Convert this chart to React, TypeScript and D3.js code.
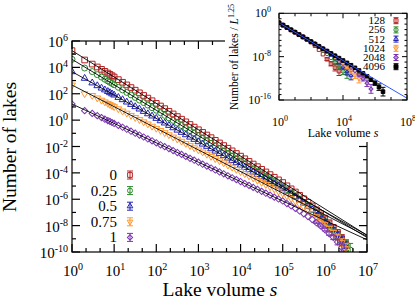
import React from 'react';
import * as d3 from 'd3';

// log10 of lake volume s (shared grid of the main plot)
const logS = [0, 0.3, 0.48, 0.6, 0.7, 0.78, 0.85, 0.9, 0.95, 1.0,
  1.1, 1.2, 1.3, 1.4, 1.5, 1.6, 1.7, 1.8, 1.9, 2.0, 2.1, 2.2, 2.3, 2.4, 2.5, 2.6, 2.7, 2.8, 2.9, 3.0,
  3.1, 3.2, 3.3, 3.4, 3.5, 3.6, 3.7, 3.8, 3.9, 4.0, 4.1, 4.2, 4.3, 4.4, 4.5, 4.6, 4.7, 4.8, 4.9, 5.0,
  5.1, 5.2, 5.3, 5.4, 5.5, 5.6, 5.7, 5.8, 5.9, 6.0, 6.1, 6.2, 6.3, 6.4, 6.5, 6.6];

const hurstLabels = ['0', '0.25', '0.5', '0.75', '1'];

// log10 of number of lakes, one array per H
const countH0 = [5.27, 4.56, 4.25, 4.03, 3.85, 3.70, 3.57, 3.47, 3.37, 3.27,
  3.07, 2.87, 2.67, 2.47, 2.27, 2.07, 1.87, 1.67, 1.47, 1.27, 1.07, 0.87, 0.67, 0.47, 0.27, 0.07, -0.13, -0.33, -0.53, -0.73,
  -0.93, -1.13, -1.33, -1.53, -1.73, -1.93, -2.13, -2.33, -2.53, -2.73, -2.93, -3.13, -3.33, -3.53, -3.73, -3.93, -4.13, -4.33, -4.53, -4.73,
  -4.98, -5.21, -5.45, -5.70, -5.96, -6.23, -6.51, -6.80, -7.10, -7.43, -7.78, -8.13, -8.53, -8.98, -9.48];
const countH025 = [4.61, 3.95, 3.68, 3.45, 3.26, 3.10, 2.97, 2.87, 2.78, 2.68,
  2.49, 2.29, 2.10, 1.91, 1.72, 1.52, 1.33, 1.14, 0.94, 0.75, 0.56, 0.36, 0.17, -0.02, -0.22, -0.41, -0.60, -0.79, -0.99, -1.18,
  -1.37, -1.57, -1.76, -1.95, -2.15, -2.34, -2.53, -2.72, -2.92, -3.11, -3.30, -3.50, -3.69, -3.88, -4.08, -4.27, -4.46, -4.65, -4.85, -5.04,
  -5.28, -5.51, -5.74, -5.98, -6.24, -6.50, -6.77, -7.05, -7.35, -7.67, -8.01, -8.36, -8.75, -9.19, -9.50, -9.85];
const countH05 = [3.67, 3.17, 2.82, 2.61, 2.43, 2.29, 2.17, 2.08, 1.99, 1.90,
  1.72, 1.55, 1.37, 1.19, 1.02, 0.84, 0.66, 0.48, 0.31, 0.13, -0.05, -0.22, -0.40, -0.58, -0.76, -0.93, -1.11, -1.29, -1.46, -1.64,
  -1.82, -1.99, -2.17, -2.35, -2.53, -2.70, -2.88, -3.06, -3.23, -3.41, -3.59, -3.76, -3.94, -4.12, -4.30, -4.47, -4.65, -4.83, -5.00, -5.18,
  -5.41, -5.61, -5.83, -6.06, -6.30, -6.54, -6.80, -7.07, -7.34, -7.65, -7.98, -8.30, -8.68, -9.11, -9.59];
const countH075 = [2.66, 2.00, 1.87, 1.68, 1.51, 1.38, 1.27, 1.18, 1.10, 1.02,
  0.86, 0.69, 0.53, 0.36, 0.20, 0.04, -0.13, -0.29, -0.46, -0.62, -0.78, -0.95, -1.11, -1.28, -1.44, -1.60, -1.77, -1.93, -2.10, -2.26,
  -2.42, -2.59, -2.75, -2.92, -3.08, -3.24, -3.41, -3.57, -3.74, -3.90, -4.06, -4.23, -4.39, -4.56, -4.72, -4.88, -5.05, -5.21, -5.38, -5.54,
  -5.75, -5.95, -6.15, -6.37, -6.59, -6.82, -7.07, -7.32, -7.59, -7.88, -8.19, -8.51, -8.87, -9.29, -9.75];
const countH1 = [1.22, 0.72, 0.51, 0.34, 0.19, 0.07, -0.03, -0.10, -0.18, -0.25,
  -0.40, -0.54, -0.69, -0.84, -0.99, -1.13, -1.28, -1.43, -1.57, -1.72, -1.87, -2.01, -2.16, -2.31, -2.46, -2.60, -2.75, -2.90, -3.04, -3.19,
  -3.34, -3.48, -3.63, -3.78, -3.93, -4.07, -4.22, -4.37, -4.51, -4.66, -4.81, -4.95, -5.10, -5.25, -5.40, -5.54, -5.69, -5.84, -5.98, -6.13,
  -6.33, -6.50, -6.69, -6.89, -7.10, -7.31, -7.54, -7.78, -8.02, -8.30, -8.60, -8.89, -9.24, -9.64];

// power-law fits: log10 N = a + b log10 s
const fitA = [5.27, 4.61, 3.67, 2.66, 1.22];
const fitB = [-2.0, -1.93, -1.77, -1.64, -1.47];

// error bars (log10 units) in the tail
const errLogS = [5.8, 5.9, 6.0, 6.1, 6.2, 6.3, 6.4, 6.5, 6.6];
const errSize = [0.05, 0.07, 0.1, 0.13, 0.17, 0.22, 0.3, 0.4, 0.5];

// inset: scaled counts for several system sizes L
const insetLogS = [0, 0.25, 0.5, 0.75, 1.0, 1.25, 1.5, 1.75, 2.0, 2.25, 2.5, 2.75, 3.0, 3.25,
  3.5, 3.75, 4.0, 4.25, 4.5, 4.75, 5.0, 5.25, 5.5, 5.75, 6.0, 6.25, 6.5];
const sizeLabels = ['128', '256', '512', '1024', '2048', '4096'];
const scaledL128 = [-1.75, -2.19, -2.62, -3.06, -3.49, -3.93, -4.36, -4.80, -5.33, -5.97, -6.70, -7.54, -8.47, -9.31, -10.04, -10.68];
const scaledL256 = [-1.75, -2.19, -2.62, -3.06, -3.49, -3.93, -4.36, -4.80, -5.23, -5.67, -6.20, -6.84, -7.47, -8.21, -9.04, -9.88, -10.71, -11.2];
const scaledL512 = [-1.75, -2.19, -2.62, -3.06, -3.49, -3.93, -4.36, -4.80, -5.23, -5.67, -6.10, -6.54, -7.07, -7.71, -8.34, -9.08, -9.91, -10.75, -11.48];
const scaledL1024 = [-1.75, -2.19, -2.62, -3.06, -3.49, -3.93, -4.36, -4.80, -5.23, -5.67, -6.10, -6.54, -6.97, -7.41, -7.94, -8.58, -9.21, -9.95, -10.68, -11.42, -12.05];
const scaledL2048 = [-1.75, -2.19, -2.62, -3.06, -3.49, -3.93, -4.36, -4.80, -5.23, -5.67, -6.10, -6.54, -6.97, -7.41, -7.84, -8.28, -8.81, -9.35, -9.98, -10.62, -11.35, -12.09, -12.92, -13.96];
const scaledL4096 = [-1.75, -2.19, -2.62, -3.06, -3.49, -3.93, -4.36, -4.80, -5.23, -5.67, -6.10, -6.54, -6.97, -7.41, -7.84, -8.28, -8.71, -9.15, -9.58, -10.07, -10.55, -11.09, -11.62, -12.26, -12.89, -13.63, -14.46];
const insetTailErr = [0.25, 0.4, 0.6, 0.8];
// guide line in the inset
const guideA = -1.75;
const guideB = -1.74;

const colors = ['#b22222', '#2a8a2a', '#2525b5', '#ff9933', '#7a35b0', '#000000'];
const shapes = ['square', 'circle', 'up', 'down', 'diamond', 'filled'];
const font = '"Liberation Serif", "Times New Roman", serif';

const x = d3.scaleLog().domain([1, 1e7]).range([72, 367]);
const y = d3.scaleLog().domain([1e-10, 1e6]).range([252, 41]);
const ix = d3.scaleLog().domain([1, 1e8]).range([279, 407]);
const iy = d3.scaleLog().domain([1e-16, 1]).range([100, 13.3]);

function symbolPath(shape: string, scale: number) {
  if (shape === 'square' || shape === 'filled') return d3.symbol(d3.symbolSquare, 32 * scale)()!;
  if (shape === 'circle') return d3.symbol(d3.symbolCircle, 28 * scale)()!;
  if (shape === 'diamond') return d3.symbol(d3.symbolSquare, 20 * scale)()!;
  return d3.symbol(d3.symbolTriangle, 20 * scale)()!;
}

function Marker({ cx, cy, shape, color, scale = 1 }: any) {
  const rot = shape === 'down' ? 180 : shape === 'diamond' ? 45 : 0;
  return (
    <path d={symbolPath(shape, scale)} transform={`translate(${cx},${cy}) rotate(${rot})`}
      fill={shape === 'filled' ? color : 'none'} stroke={color} strokeWidth={1} />
  );
}

function ErrBar({ cx, y1, y2, w, color }: any) {
  return (
    <g stroke={color} strokeWidth={1}>
      <line x1={cx} x2={cx} y1={y1} y2={y2} />
      <line x1={cx - w} x2={cx + w} y1={y1} y2={y1} />
      <line x1={cx - w} x2={cx + w} y1={y2} y2={y2} />
    </g>
  );
}

function Pow({ px, py, exp, anchor, size, sup, rise }: any) {
  return (
    <text x={px} y={py} textAnchor={anchor} fontSize={size} fontFamily={font}>
      10<tspan dy={-rise} fontSize={sup}>{exp}</tspan>
    </text>
  );
}

export default function App() {
  const series = [countH0, countH025, countH05, countH075, countH1];
  const inset = [scaledL128, scaledL256, scaledL512, scaledL1024, scaledL2048, scaledL4096];

  const xMajor = d3.range(0, 8);
  const xMinor = d3.range(0, 7).flatMap((k) => [k + 1 / 3, k + 2 / 3]);
  const yMajor = d3.range(-10, 7, 2);
  const yMinor = d3.range(-9, 6, 2);

  const ixTicks = d3.range(0, 9);
  const iyTicks = d3.range(-16, 1);

  return (
    <svg width={415} height={300} style={{ position: 'absolute', left: 0, top: 0, background: '#fff' }}>
      <defs>
        <clipPath id="mainClip"><rect x={72} y={41} width={295} height={211} /></clipPath>
        <clipPath id="insetClip"><rect x={279} y={13.3} width={128} height={86.7} /></clipPath>
      </defs>

      {/* main data */}
      <g clipPath="url(#mainClip)">
        {series.map((vals, i) => (
          <g key={i}>
            {vals.map((v, j) => {
              const cx = x(10 ** logS[j]);
              const cy = y(10 ** v);
              const k = errLogS.indexOf(logS[j]);
              return (
                <g key={j}>
                  {k >= 0 && (
                    <ErrBar cx={cx} y1={y(10 ** (v + errSize[k]))} y2={y(10 ** (v - errSize[k]))} w={3} color={colors[i]} />
                  )}
                  <Marker cx={cx} cy={cy} shape={shapes[i]} color={colors[i]} />
                </g>
              );
            })}
          </g>
        ))}
        {fitA.map((a, i) => (
          <line key={i} x1={x(1)} y1={y(10 ** a)} x2={x(1e7)} y2={y(10 ** (a + fitB[i] * 7))}
            stroke="#000" strokeWidth={0.9} />
        ))}
      </g>

      {/* main frame and ticks */}
      <g stroke="#000" strokeWidth={1.2} fill="none">
        <rect x={72} y={41} width={295} height={211} />
        {xMajor.map((k) => (
          <g key={'xm' + k}>
            <line x1={x(10 ** k)} x2={x(10 ** k)} y1={252} y2={244} />
            <line x1={x(10 ** k)} x2={x(10 ** k)} y1={41} y2={49} />
          </g>
        ))}
        {xMinor.map((k, i) => (
          <g key={'xn' + i}>
            <line x1={x(10 ** k)} x2={x(10 ** k)} y1={252} y2={248} />
            <line x1={x(10 ** k)} x2={x(10 ** k)} y1={41} y2={45} />
          </g>
        ))}
        {yMajor.map((k) => (
          <g key={'ym' + k}>
            <line x1={72} x2={80} y1={y(10 ** k)} y2={y(10 ** k)} />
            <line x1={367} x2={359} y1={y(10 ** k)} y2={y(10 ** k)} />
          </g>
        ))}
        {yMinor.map((k) => (
          <g key={'yn' + k}>
            <line x1={72} x2={76} y1={y(10 ** k)} y2={y(10 ** k)} />
            <line x1={367} x2={363} y1={y(10 ** k)} y2={y(10 ** k)} />
          </g>
        ))}
      </g>

      {/* main tick labels */}
      {yMajor.map((k) => (
        <Pow key={'yl' + k} px={68} py={y(10 ** k) + 6} exp={String(k)} anchor="end" size={15} sup={10} rise={6} />
      ))}
      {xMajor.map((k) => (
        <Pow key={'xl' + k} px={x(10 ** k) + 1} py={276} exp={String(k)} anchor="middle" size={15} sup={10} rise={6} />
      ))}

      <text transform="translate(16,147) rotate(-90)" textAnchor="middle" fontSize={19.5} fontFamily={font}>Number of lakes</text>
      <text x={220} y={296} textAnchor="middle" fontSize={19.5} fontFamily={font}>
        Lake volume <tspan fontStyle="italic">s</tspan>
      </text>

      {/* main legend */}
      {hurstLabels.map((lab, i) => {
        const ry = 175 + i * 15.6;
        return (
          <g key={'lg' + i}>
            <text x={117} y={ry + 5} textAnchor="end" fontSize={15} fontFamily={font}>{lab}</text>
            <ErrBar cx={130} y1={ry - 4} y2={ry + 4} w={3} color={colors[i]} />
            <Marker cx={130} cy={ry} shape={shapes[i]} color={colors[i]} scale={0.7} />
          </g>
        );
      })}

      {/* inset background */}
      <rect x={225} y={0} width={190} height={142} fill="#fff" />

      {/* inset data */}
      <g clipPath="url(#insetClip)">
        {inset.map((vals, i) => (
          <g key={i}>
            {vals.map((v, j) => {
              const cx = ix(10 ** insetLogS[j]);
              const fromEnd = vals.length - 1 - j;
              const e = fromEnd < insetTailErr.length ? insetTailErr[insetTailErr.length - 1 - fromEnd] : 0;
              return (
                <g key={j}>
                  {e > 0 && <ErrBar cx={cx} y1={iy(10 ** (v + e))} y2={iy(10 ** (v - e))} w={2.5} color={colors[i]} />}
                  <Marker cx={cx} cy={iy(10 ** v)} shape={shapes[i]} color={colors[i]} scale={0.4} />
                </g>
              );
            })}
          </g>
        ))}
        <line x1={ix(1)} y1={iy(10 ** guideA)} x2={ix(1e8)} y2={iy(10 ** (guideA + guideB * 8))}
          stroke="#3355ff" strokeWidth={1} />
      </g>

      {/* inset frame */}
      <g stroke="#000" strokeWidth={1} fill="none">
        <rect x={279} y={13.3} width={128} height={86.7} />
        {ixTicks.map((k) => {
          const len = k % 4 === 0 ? 5 : 3;
          return (
            <g key={'ix' + k}>
              <line x1={ix(10 ** k)} x2={ix(10 ** k)} y1={100} y2={100 - len} />
              <line x1={ix(10 ** k)} x2={ix(10 ** k)} y1={13.3} y2={13.3 + len} />
            </g>
          );
        })}
        {iyTicks.map((k) => {
          const len = k % 8 === 0 ? 5 : 2.5;
          return (
            <g key={'iy' + k}>
              <line x1={279} x2={279 + len} y1={iy(10 ** k)} y2={iy(10 ** k)} />
              <line x1={407} x2={407 - len} y1={iy(10 ** k)} y2={iy(10 ** k)} />
            </g>
          );
        })}
      </g>
      {[0, -8, -16].map((k) => (
        <Pow key={'iyl' + k} px={271} py={iy(10 ** k) + 4} exp={String(k)} anchor="end" size={12} sup={8} rise={5} />
      ))}
      {[0, 4, 8].map((k) => (
        <Pow key={'ixl' + k} px={ix(10 ** k) + 1} py={126} exp={String(k)} anchor="middle" size={12} sup={8} rise={5} />
      ))}
      <text transform="translate(238,57) rotate(-90)" textAnchor="middle" fontSize={11.5} fontFamily={font}>
        Number of lakes / <tspan fontStyle="italic">L</tspan><tspan dy={-4} fontSize={8}>1.25</tspan>
      </text>
      <text x={343} y={137} textAnchor="middle" fontSize={12} fontFamily={font}>
        Lake volume <tspan fontStyle="italic">s</tspan>
      </text>

      {/* inset legend */}
      {sizeLabels.map((lab, i) => {
        const ry = 20.7 + i * 9.2;
        return (
          <g key={'il' + i}>
            <text x={385} y={ry + 3.5} textAnchor="end" fontSize={11} fontFamily={font}>{lab}</text>
            <ErrBar cx={396} y1={ry - 3} y2={ry + 3} w={2.5} color={colors[i]} />
            <Marker cx={396} cy={ry} shape={shapes[i]} color={colors[i]} scale={0.5} />
          </g>
        );
      })}
    </svg>
  );
}
